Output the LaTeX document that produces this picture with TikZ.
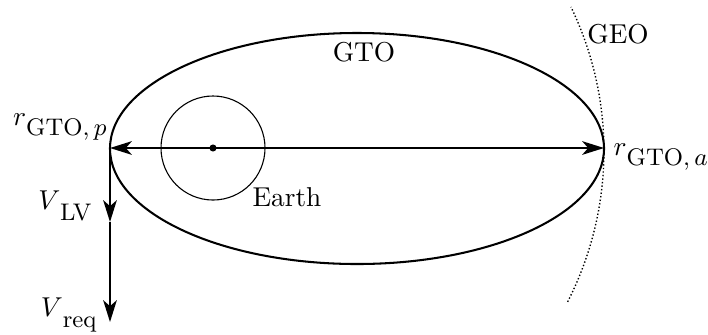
\documentclass[tikz,border=0pt]{standalone}
\usetikzlibrary{arrows.meta}
\newcommand{\lsub}[2]{$#1$\raisebox{-4pt}{\fontsize{8.8}{10}\selectfont #2}}
\begin{document}
\begin{tikzpicture}[x=0.3663pt,y=-0.3663pt,
  orbit/.style={line width=0.75pt},
  vec/.style={line width=0.7pt,-{Stealth[length=8pt,width=5pt,inset=2.2pt]}},
  bivec/.style={line width=0.7pt,{Stealth[length=8pt,width=5pt,inset=2.2pt]}-{Stealth[length=8pt,width=5pt,inset=2.2pt]}},
  lbl/.style={inner sep=0pt}]
\useasboundingbox (0,0) rectangle (708,334);
\coordinate (O) at (357,148.5);
\coordinate (P) at (110,148);
\coordinate (A) at (604,148);
\coordinate (E) at (213,148);
\coordinate (V1) at (110,222);
\coordinate (V2) at (110,322);
\coordinate (G1) at (567.6,301.8);
% GTO ellipse
\draw[orbit] (O) ellipse [x radius=90.48pt, y radius=42.31pt];
% Earth
\draw[line width=0.4pt] (E) circle [radius=19.05pt];
\fill (E) circle [radius=1.3pt];
% GEO arc
\draw[line width=0.5pt, dash pattern=on 0.5pt off 0.8pt] (G1) arc[start angle=-27.1, end angle=25.8, radius=121.25pt];
% vectors
\draw[bivec] (P) -- (A);
\draw[vec] (P) -- (V1);
\draw[vec] (V1) -- (V2);
% labels
\node[lbl] (gto) at (364,52) {GTO};
\node[lbl] (geo) at (618,34) {GEO};
\node[lbl] (earth) at (287,197) {Earth};
\node[lbl,anchor=east] (rp) at (107,127) {\lsub{r}{GTO$,p$}};
\node[lbl,anchor=west] (ra) at (613,157) {\lsub{r}{GTO$,a$}};
\node[lbl,anchor=east] (vlv) at (92,206) {\lsub{V}{LV}};
\node[lbl,anchor=east] (vreq) at (97,315) {\lsub{V}{req}};
\end{tikzpicture}
\end{document}
